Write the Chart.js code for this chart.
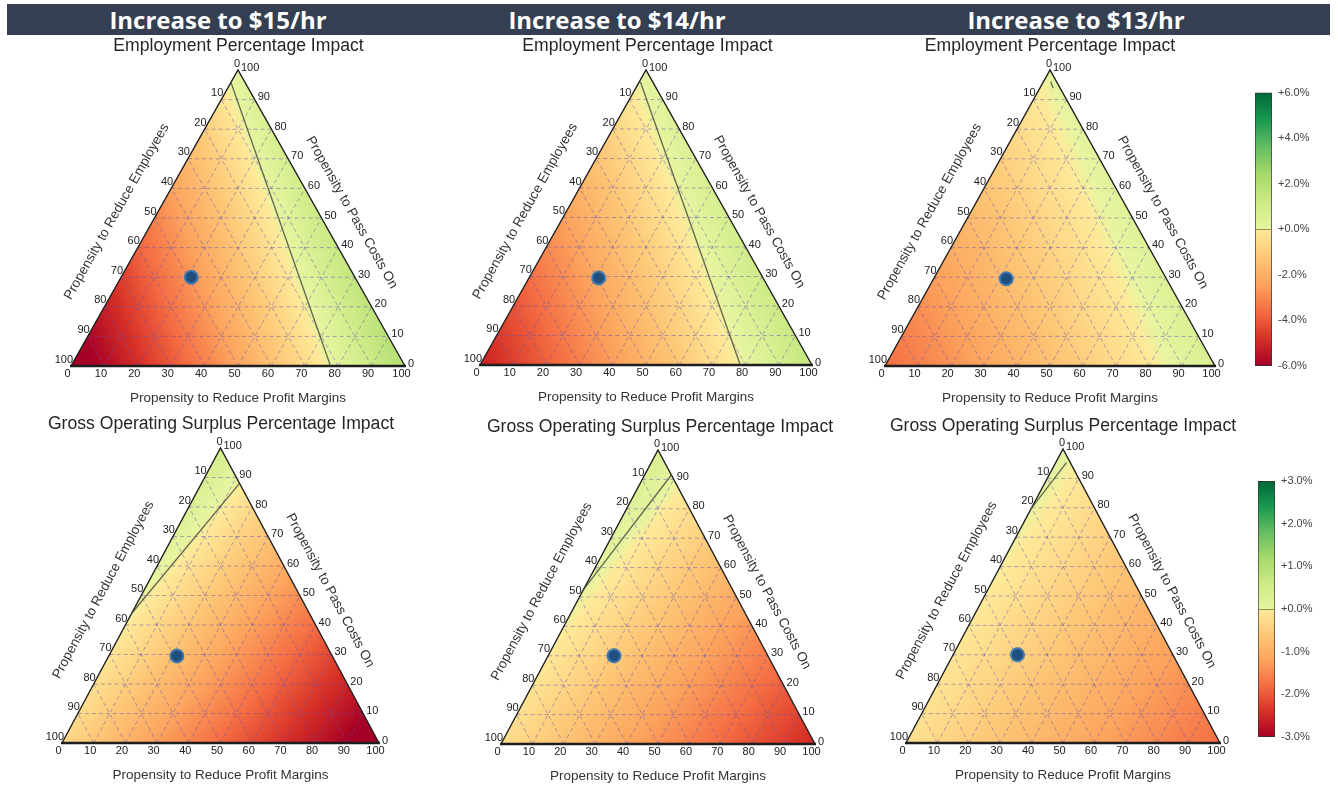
<!DOCTYPE html>
<html><head><meta charset="utf-8">
<script src="https://cdn.jsdelivr.net/npm/chart.js@4.4.1/dist/chart.umd.min.js"></script>
<style>
html,body{margin:0;padding:0;background:#fff;width:1338px;height:789px;overflow:hidden;position:relative;font-family:Arial,"Liberation Sans",sans-serif;}
.hdr{position:absolute;left:7px;top:4px;width:1323px;height:31px;background:#343f51;}
.hdr span{position:absolute;top:0;line-height:31px;color:#fff;font-family:"Open Sans",sans-serif;font-weight:700;font-size:24px;transform:translateX(-50%);white-space:nowrap;}
.ttl{position:absolute;transform:translate(-50%,-50%);font-size:17.6px;color:#262626;white-space:nowrap;font-family:Arial,"Liberation Sans",sans-serif;}
.pnl{position:absolute;}
.pnl canvas{display:block;}
</style></head><body>
<div class="hdr" id="hdr"></div>
<script>
// ---------------- DATA ----------------
const scenarioLabels = ["Increase to $15/hr", "Increase to $14/hr", "Increase to $13/hr"];
const metricTitles = ["Employment Percentage Impact", "Gross Operating Surplus Percentage Impact"];
const axisTitles = ["Propensity to Reduce Employees", "Propensity to Pass Costs On", "Propensity to Reduce Profit Margins"];
const ternaryTicks = [0, 10, 20, 30, 40, 50, 60, 70, 80, 90, 100];
// impact (%) at the corners: [100% reduce employees, 100% reduce profit margins, 100% pass costs on]
const employmentCorners = [[-6.6, 2.0, 0.4], [-5.2, 1.45, 0.3], [-3.6, 0.7, 0.15]];
const gosCorners = [[-0.35, -3.3, 0.45], [-0.25, -2.5, 0.35], [-0.2, -1.8, 0.1]];
// zero-impact contour segments, endpoints as [profit margins %, pass costs on %]
const employmentZero = [[[0, 95.8], [77.7, 0]], [[0.3, 96], [78.4, 0]], [[2.2, 96], [4.1, 93.8]]];
const gosZero = [[[0, 43.9], [12, 88]], [[0, 52.4], [8.5, 91.5]], [[0, 79.7], [3.4, 95.4]]];
// current mix marker per panel: [profit margins %, pass costs on %]
const currentMix = [[21, 30], [21, 29.5], [22, 29.5], [21.5, 29.5], [21, 30], [20.5, 30]];
const employmentScaleTicks = [-6, -4, -2, 0, 2, 4, 6];
const gosScaleTicks = [-3, -2, -1, 0, 1, 2, 3];

// ---------------- LAYOUT / STYLE ----------------
const headerCenters = [218, 617, 1076];
const titleCenters = [[238.5, 45], [647.5, 45], [1050, 45], [221, 423], [660, 426], [1063, 425]];
const panelGeom = [
  {bl: 71, br: 405, apexY: 70, baseY: 366},
  {bl: 480, br: 812, apexY: 70, baseY: 365},
  {bl: 885, br: 1215, apexY: 70, baseY: 366},
  {bl: 62, br: 379, apexY: 448, baseY: 743},
  {bl: 501, br: 815, apexY: 450, baseY: 744},
  {bl: 906, br: 1220, apexY: 449, baseY: 743}
];
const cmapStops = [
  [0.0, '#a50026'], [0.1, '#d73027'], [0.2, '#f46d43'], [0.3, '#fca35d'], [0.4, '#fdc877'], [0.49, '#fee999'],
  [0.51, '#e6f5a0'], [0.6, '#ccea85'], [0.7, '#a6d96a'], [0.8, '#66bd63'], [0.9, '#1a9850'], [1.0, '#006837']
];
const barStops = [
  [0.0, '#a50026'], [0.1, '#d73027'], [0.2, '#f46d43'], [0.3, '#fca35d'], [0.4, '#fdc877'], [0.4995, '#fee999'],
  [0.5005, '#e6f5a0'], [0.6, '#ccea85'], [0.7, '#a6d96a'], [0.8, '#66bd63'], [0.9, '#1a9850'], [1.0, '#006837']
];
const FONT = 'Arial, "Liberation Sans", sans-serif';

// header
const hdr = document.getElementById('hdr');
scenarioLabels.forEach((t, i) => {
  const s = document.createElement('span');
  s.textContent = t;
  s.style.left = (headerCenters[i] - 7) + 'px';
  hdr.appendChild(s);
});

function fieldGradient(ctx, A, B, C, f, range) {
  const ux = B[0] - A[0], uy = B[1] - A[1], wx = C[0] - A[0], wy = C[1] - A[1];
  const d1 = f[1] - f[0], d2 = f[2] - f[0];
  const det = ux * wy - uy * wx;
  const gx = (d1 * wy - uy * d2) / det, gy = (ux * d2 - d1 * wx) / det;
  const g2 = gx * gx + gy * gy || 1e-9;
  const at = v => [A[0] + (v - f[0]) * gx / g2, A[1] + (v - f[0]) * gy / g2];
  const p0 = at(-range), p1 = at(range);
  const grad = ctx.createLinearGradient(p0[0], p0[1], p1[0], p1[1]);
  cmapStops.forEach(([s, c]) => grad.addColorStop(s, c));
  return grad;
}

const ternaryPlugin = {
  id: 'ternary',
  beforeDatasetsDraw(chart, args, opts) {
    const ctx = chart.ctx, xs = chart.scales.x, ys = chart.scales.y;
    const P = (p, c) => [xs.getPixelForValue(p + c / 2), ys.getPixelForValue(c)];
    const A = P(0, 0), B = P(100, 0), C = P(0, 100);
    ctx.save();
    ctx.beginPath(); ctx.moveTo(...A); ctx.lineTo(...B); ctx.lineTo(...C); ctx.closePath();
    ctx.fillStyle = fieldGradient(ctx, A, B, C, opts.corners, opts.range);
    ctx.fill();
    // dashed grid
    ctx.setLineDash([4, 3]);
    ctx.strokeStyle = 'rgba(95,80,180,0.55)';
    ctx.lineWidth = 0.9;
    ternaryTicks.filter(k => k > 0 && k < 100).forEach(k => {
      const segs = [[P(0, k), P(100 - k, k)], [P(k, 0), P(k, 100 - k)], [P(100 - k, 0), P(0, 100 - k)]];
      segs.forEach(([a, b]) => { ctx.beginPath(); ctx.moveTo(...a); ctx.lineTo(...b); ctx.stroke(); });
    });
    ctx.setLineDash([]);
    // edges
    ctx.strokeStyle = '#1e1e1e';
    ctx.lineWidth = 1.4;
    ctx.beginPath(); ctx.moveTo(...A); ctx.lineTo(...C); ctx.lineTo(...B); ctx.stroke();
    ctx.lineWidth = 2.4;
    ctx.beginPath(); ctx.moveTo(A[0] - 1, A[1]); ctx.lineTo(B[0] + 1, B[1]); ctx.stroke();
    ctx.restore();
  },
  afterDraw(chart, args, opts) {
    const ctx = chart.ctx, xs = chart.scales.x, ys = chart.scales.y;
    const P = (p, c) => [xs.getPixelForValue(p + c / 2), ys.getPixelForValue(c)];
    const A = P(0, 0), B = P(100, 0), C = P(0, 100);
    ctx.save();
    ctx.fillStyle = '#222';
    ctx.font = '11px ' + FONT;
    ternaryTicks.forEach(k => {
      let [x, y] = P(k, 0);
      ctx.textAlign = 'center'; ctx.textBaseline = 'middle';
      ctx.fillText(String(k), x - 3.5, y + 7.5);
      [x, y] = P(0, 100 - k);
      ctx.textAlign = 'right'; ctx.textBaseline = 'bottom';
      ctx.fillText(String(k), x + 2, y - 1);
      [x, y] = P(100 - k, k);
      ctx.textAlign = 'left'; ctx.textBaseline = 'middle';
      ctx.fillText(String(k), x + 3, y - 2.5);
    });
    ctx.fillStyle = '#333';
    ctx.font = '13.5px ' + FONT;
    ctx.textAlign = 'center'; ctx.textBaseline = 'middle';
    // bottom title
    const mb = P(50, 0);
    ctx.fillText(axisTitles[2], mb[0], mb[1] + 32);
    // left title
    const L = Math.hypot(A[0] - C[0], A[1] - C[1]);
    let t = [(A[0] - C[0]) / L, (A[1] - C[1]) / L];
    let n = [-t[1], t[0]];
    let m = P(0, 50);
    ctx.save();
    ctx.translate(m[0] + n[0] * 36 + t[0] * 13, m[1] + n[1] * 36 + t[1] * 13);
    ctx.rotate(Math.atan2(C[1] - A[1], C[0] - A[0]));
    ctx.fillText(axisTitles[0], 0, 0);
    ctx.restore();
    // right title
    const R = Math.hypot(B[0] - C[0], B[1] - C[1]);
    t = [(B[0] - C[0]) / R, (B[1] - C[1]) / R];
    n = [t[1], -t[0]];
    m = P(50, 50);
    ctx.save();
    ctx.translate(m[0] + n[0] * 29 + t[0] * 10, m[1] + n[1] * 29 + t[1] * 10);
    ctx.rotate(Math.atan2(B[1] - C[1], B[0] - C[0]));
    ctx.fillText(axisTitles[1], 0, 0);
    ctx.restore();
    ctx.restore();
  }
};

const toXY = ([p, c]) => ({x: p + c / 2, y: c});

const panels = [];
for (let r = 0; r < 2; r++) for (let i = 0; i < 3; i++) {
  panels.push({
    corners: r === 0 ? employmentCorners[i] : gosCorners[i],
    zero: r === 0 ? employmentZero[i] : gosZero[i],
    range: r === 0 ? Math.max(...employmentScaleTicks) : Math.max(...gosScaleTicks),
    point: currentMix[r * 3 + i],
    title: metricTitles[r]
  });
}

panels.forEach((pd, idx) => {
  const g = panelGeom[idx];
  const padL = 75, padR = 75, padT = 40, padB = 50;
  const div = document.createElement('div');
  div.className = 'pnl';
  const W = g.br - g.bl + padL + padR, H = g.baseY - g.apexY + padT + padB;
  div.style.left = (g.bl - padL) + 'px';
  div.style.top = (g.apexY - padT) + 'px';
  div.style.width = W + 'px';
  div.style.height = H + 'px';
  const cv = document.createElement('canvas');
  cv.width = W; cv.height = H;
  div.appendChild(cv);
  document.body.appendChild(div);

  const tt = document.createElement('div');
  tt.className = 'ttl';
  tt.textContent = pd.title;
  tt.style.left = titleCenters[idx][0] + 'px';
  tt.style.top = titleCenters[idx][1] + 'px';
  document.body.appendChild(tt);

  new Chart(cv, {
    type: 'scatter',
    data: {
      datasets: [
        {data: [toXY(pd.point)], pointRadius: 6.5, pointBackgroundColor: '#1f4f7e', pointBorderColor: '#4279ad', pointBorderWidth: 2, clip: false},
        {type: 'line', data: pd.zero.map(toXY), showLine: true, borderColor: 'rgba(75,75,65,0.85)', borderWidth: 1.3, pointRadius: 0, fill: false, clip: false}
      ]
    },
    options: {
      responsive: false,
      animation: false,
      events: [],
      layout: {padding: {left: padL, right: padR, top: padT, bottom: padB}},
      plugins: {legend: {display: false}, tooltip: {enabled: false}, ternary: {corners: pd.corners, range: pd.range}},
      scales: {
        x: {type: 'linear', min: 0, max: 100, display: false},
        y: {type: 'linear', min: 0, max: 100, display: false}
      }
    },
    plugins: [ternaryPlugin]
  });
});

// colour bars
const zeroLinePlugin = {
  id: 'zeroLine',
  afterDatasetsDraw(chart) {
    const ctx = chart.ctx, ys = chart.scales.y, a = chart.chartArea;
    const y = Math.round(ys.getPixelForValue(0)) + 0.5;
    ctx.save();
    ctx.strokeStyle = '#8f8f55';
    ctx.lineWidth = 1;
    ctx.beginPath(); ctx.moveTo(a.left + 1, y); ctx.lineTo(a.right - 1, y); ctx.stroke();
    ctx.restore();
  }
};

function makeColorbar(ticks, box) {
  const div = document.createElement('div');
  div.className = 'pnl';
  div.style.left = box.left + 'px'; div.style.top = box.top + 'px';
  const cv = document.createElement('canvas');
  cv.width = box.w; cv.height = box.h;
  div.appendChild(cv);
  document.body.appendChild(div);
  const lo = Math.min(...ticks), hi = Math.max(...ticks);
  new Chart(cv, {
    type: 'bar',
    data: {
      labels: [''],
      datasets: [{
        data: [[lo, hi]],
        backgroundColor: (c) => {
          const ch = c.chart;
          if (!ch.chartArea) return '#ccc';
          const ys = ch.scales.y;
          const gr = ch.ctx.createLinearGradient(0, ys.getPixelForValue(lo), 0, ys.getPixelForValue(hi));
          barStops.forEach(([s, col]) => gr.addColorStop(s, col));
          return gr;
        },
        borderColor: '#333',
        borderWidth: 1,
        borderSkipped: false,
        barPercentage: 1,
        categoryPercentage: 1
      }]
    },
    options: {
      responsive: false,
      animation: false,
      events: [],
      layout: {padding: box.pad},
      plugins: {legend: {display: false}, tooltip: {enabled: false}},
      scales: {
        x: {display: false},
        y: {
          position: 'right', min: lo, max: hi,
          afterFit: s => { s.width = 40; },
          afterBuildTicks: s => { s.ticks = ticks.map(v => ({value: v})); },
          grid: {display: false, drawTicks: false},
          border: {display: false},
          ticks: {padding: 6, color: '#444', font: {size: 11, family: FONT},
            callback: v => (v >= 0 ? '+' : '') + Number(v).toFixed(1) + '%'}
        }
      }
    },
    plugins: [zeroLinePlugin]
  });
}

makeColorbar(employmentScaleTicks, {left: 1240, top: 80, w: 98, h: 300, pad: {left: 15, right: 26, top: 12, bottom: 14}});
makeColorbar(gosScaleTicks, {left: 1240, top: 460, w: 98, h: 300, pad: {left: 18, right: 23, top: 21, bottom: 23}});
</script>
</body></html>
